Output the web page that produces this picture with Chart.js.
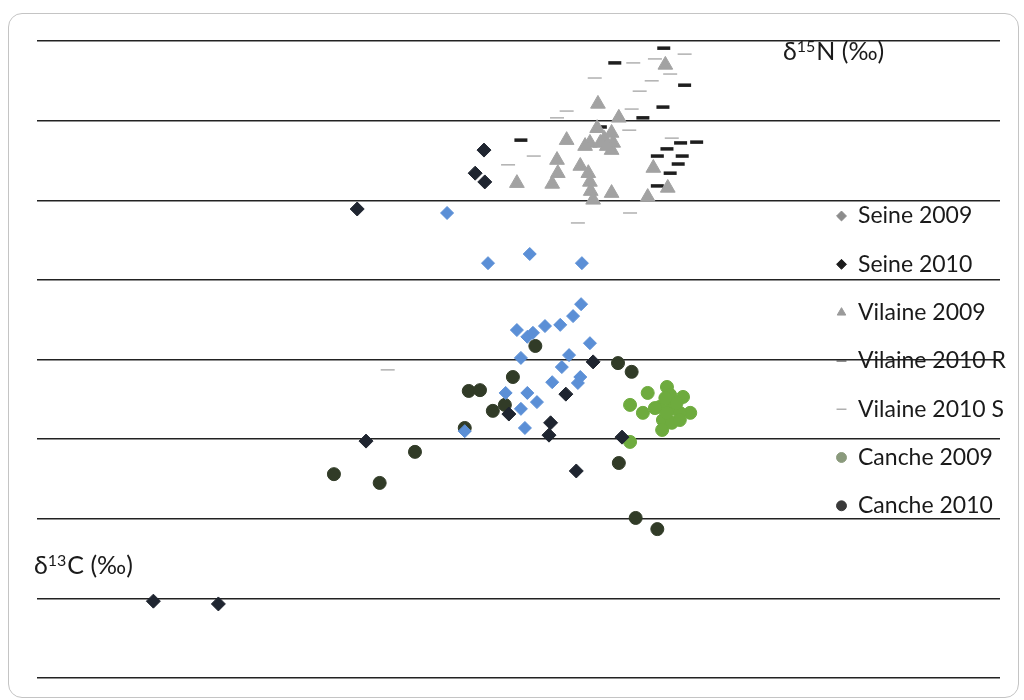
<!DOCTYPE html>
<html>
<head>
<meta charset="utf-8">
<title>δ13C / δ15N</title>
<script src="https://cdn.jsdelivr.net/npm/chart.js@4.4.1/dist/chart.umd.min.js"></script>
<style>
  body { margin: 0; background: #fff; }
  #frame {
    position: absolute; left: 8px; top: 13px;
    width: 1011px; height: 685px; box-sizing: border-box;
    border: 1px solid #c4c4c4; border-radius: 14px; overflow: hidden;
  }
</style>
</head>
<body>
<div id="frame"><canvas id="isoChart"></canvas></div>
<script>
// values: [δ13C, δ15N]
const seine2009 = [
  [-24.89, 13.68], [-24.38, 12.42], [-23.86, 12.65], [-23.21, 12.42], [-23.22, 11.39],
  [-23.32, 11.09], [-23.48, 10.87], [-23.67, 10.84], [-24.02, 10.74], [-23.89, 10.57],
  [-23.82, 10.67], [-23.11, 10.41], [-23.97, 10.04], [-23.37, 10.11], [-23.46, 9.81],
  [-23.58, 9.43], [-23.23, 9.56], [-23.26, 9.41], [-24.16, 9.16], [-23.89, 9.16],
  [-23.77, 8.93], [-23.97, 8.76], [-23.92, 8.28], [-24.67, 8.20]
];
const seine2010 = [
  [-26.01, 13.78], [-24.43, 15.26], [-24.54, 14.68], [-24.42, 14.46], [-23.07, 9.94],
  [-23.41, 9.13], [-24.12, 8.63], [-23.60, 8.41], [-23.62, 8.10], [-22.71, 8.05],
  [-25.90, 7.95], [-23.28, 7.20], [-28.55, 3.93], [-27.74, 3.86]
];
const vilaine2009 = [
  [-22.17, 17.40], [-23.01, 16.42], [-22.75, 16.07], [-23.02, 15.81], [-22.84, 15.69],
  [-23.40, 15.51], [-23.11, 15.44], [-22.82, 15.44], [-22.84, 15.26], [-23.52, 15.01],
  [-23.23, 14.86], [-22.32, 14.81], [-23.51, 14.68], [-23.13, 14.68], [-24.02, 14.43],
  [-23.58, 14.41], [-23.11, 14.46], [-22.14, 14.31], [-23.10, 14.23], [-22.84, 14.18],
  [-22.39, 14.08], [-23.07, 14.01], [-22.98, 15.44], [-22.93, 15.54], [-23.17, 15.36],
  [-22.90, 15.36]
];
const vilaine2010R = [
  [-22.19, 17.82], [-22.80, 17.45], [-21.93, 16.89], [-22.20, 16.34], [-22.45, 16.07],
  [-22.98, 15.84], [-23.97, 15.51], [-21.78, 15.46], [-21.98, 15.44], [-22.15, 15.29],
  [-21.96, 15.11], [-22.27, 15.11], [-22.01, 14.91], [-22.11, 14.68], [-22.27, 14.36]
];
const vilaine2010S = [
  [-21.93, 17.67], [-22.57, 17.45], [-22.30, 17.55], [-22.11, 17.17], [-23.05, 17.07],
  [-22.34, 17.00], [-22.49, 16.74], [-23.40, 16.24], [-22.59, 16.29], [-23.52, 16.07],
  [-22.62, 15.76], [-22.09, 15.56], [-23.81, 15.11], [-24.13, 14.89], [-22.61, 13.68],
  [-23.26, 13.43], [-25.63, 9.74]
];
const canche2009 = [
  [-22.39, 9.16], [-22.61, 8.86], [-22.45, 8.66], [-22.15, 9.31], [-22.11, 9.11],
  [-21.95, 9.06], [-22.24, 8.81], [-22.09, 8.81], [-21.86, 8.66], [-21.99, 8.66],
  [-22.20, 8.48], [-22.09, 8.41], [-22.21, 8.23], [-22.30, 8.78], [-22.03, 8.91],
  [-22.61, 7.93], [-22.15, 8.66], [-21.99, 8.48], [-22.17, 9.03]
];
const canche2010 = [
  [-23.79, 10.34], [-22.76, 9.91], [-22.59, 9.69], [-24.07, 9.56], [-24.62, 9.21],
  [-24.48, 9.23], [-24.32, 8.71], [-24.17, 8.86], [-24.67, 8.28], [-25.29, 7.68],
  [-26.30, 7.12], [-25.73, 6.90], [-22.75, 7.40], [-22.54, 6.02], [-22.27, 5.74]
];

const seriesNames = ["Seine 2009", "Seine 2010", "Vilaine 2009", "Vilaine 2010 R",
  "Vilaine 2010 S", "Canche 2009", "Canche 2010"];
const legendColors = ["#8c8c8c", "#1c1c1c", "#9a9a9a", "#6a6a6a", "#b0b0b0", "#8a9a7c", "#3a3a3a"];
const legendLineWidths = [1, 1, 1, 1.6, 1.4, 1, 1];

const toPts = (arr) => arr.map((p) => ({ x: p[0], y: p[1] }));

function series(i, arr, style, color, radius, bw) {
  return {
    label: seriesNames[i],
    data: toPts(arr),
    pointStyle: style,
    pointRadius: radius,
    pointHoverRadius: radius,
    backgroundColor: color,
    borderColor: color,
    pointBorderWidth: bw,
    borderWidth: bw,
    showLine: false,
  };
}

const data = {
  datasets: [
    series(0, seine2009, "rectRot", "#5b8fd6", 6.5, 1),
    series(1, seine2010, "rectRot", "#1f2530", 7, 1),
    series(2, vilaine2009, "triangle", "#a2a2a2", 8.5, 1),
    series(3, vilaine2010R, "line", "#1e1e1e", 6.5, 3.5),
    series(4, vilaine2010S, "line", "#b5b5b5", 7, 1.6),
    series(5, canche2009, "circle", "#6eab3e", 6.5, 1),
    series(6, canche2010, "circle", "#313b27", 6.5, 1),
  ],
};

// legend sits inside the plot, on the right
const legendPlace = {
  id: "legendPlace",
  afterLayout(chart) {
    const lg = chart.legend;
    if (!lg) return;
    lg.left = 827.5 - 25.3;
    lg.right = lg.left + 200;
    lg.top = 202 - 11.5 - 25.3;
    lg.bottom = 700;
  },
};

function drawIso(ctx, x, y, mass, rest) {
  ctx.save();
  ctx.fillStyle = "#1a1a1a";
  ctx.textBaseline = "middle";
  ctx.textAlign = "left";
  ctx.font = "25px Lato";
  ctx.fillText("δ", x, y);
  let w = ctx.measureText("δ").width;
  ctx.font = "16px Lato";
  ctx.fillText(mass, x + w, y - 5);
  w += ctx.measureText(mass).width;
  ctx.font = "25px Lato";
  ctx.fillText(rest, x + w + 1, y);
  ctx.restore();
}

const axisTitles = {
  id: "axisTitles",
  afterDraw(chart) {
    const a = chart.chartArea;
    drawIso(chart.ctx, a.left + 746, a.top + 11, "15", "N (‰)");
    drawIso(chart.ctx, 25, 552, "13", "C (‰)");
  },
};

const config = {
  type: "scatter",
  data: data,
  plugins: [legendPlace, axisTitles],
  options: {
    responsive: true,
    maintainAspectRatio: false,
    animation: false,
    layout: { padding: { left: 28, right: 18, top: 27, bottom: 19 } },
    scales: {
      x: { type: "linear", min: -30, max: -18, display: false },
      y: {
        min: 2,
        max: 18,
        ticks: { stepSize: 2, display: false },
        grid: { color: "#222222", lineWidth: 1.4, drawTicks: false },
        border: { display: false },
        afterFit(s) { s.width = 0; },
      },
    },
    plugins: {
      tooltip: { enabled: false },
      legend: {
        position: "chartArea",
        fullSize: false,
        align: "start",
        labels: {
          usePointStyle: true,
          boxWidth: 10,
          boxHeight: 7,
          padding: 25.3,
          color: "#1a1a1a",
          font: { family: "Lato", size: 23 },
          generateLabels(chart) {
            const items = Chart.defaults.plugins.legend.labels.generateLabels(chart);
            items.forEach((it, i) => {
              it.fillStyle = legendColors[i];
              it.strokeStyle = legendColors[i];
              it.lineWidth = legendLineWidths[i];
            });
            return items;
          },
        },
      },
    },
  },
};

const isoChart = new Chart(document.getElementById("isoChart"), config);
</script>
</body>
</html>
